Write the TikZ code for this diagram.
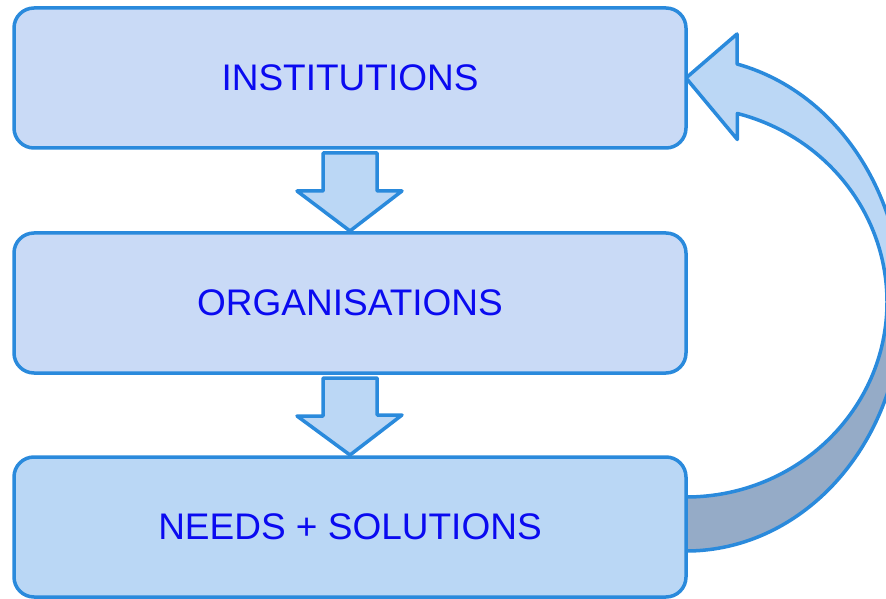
\documentclass[tikz,border=0pt]{standalone}
\usepackage{fontspec}
\setmainfont{Liberation Sans}
\usepackage{xcolor}
\usepackage{tikz}
\usetikzlibrary{positioning,backgrounds}

\definecolor{edgeblue}{HTML}{2A8ADC}
\definecolor{boxfill}{HTML}{C9DAF6}
\definecolor{needsfill}{HTML}{BAD7F5}
\definecolor{arrowfill}{HTML}{BBD7F5}
\definecolor{backfill}{HTML}{95ABC7}
\definecolor{textblue}{HTML}{0A0AF0}

% Umriss des gebogenen Pfeils (von needs zurueck zu inst)
\newcommand{\loopshape}{([yshift=30pt]needs.east)
  arc[start angle=-90,end angle=75.2,x radius=201pt,y radius=195pt]
  -- ++(0,-26) -- (inst.east) -- ++(51,44) -- ++(0,-30)
  arc[start angle=76.35,end angle=-90,x radius=216pt,y radius=247pt] -- cycle}

\begin{document}
\begin{tikzpicture}[x=1pt,y=1pt,
    box/.style={draw=edgeblue,line width=3.5pt,rounded corners=20pt,
      minimum width=672pt,minimum height=140pt,inner sep=0pt,outer sep=0pt,
      text=textblue,font=\fontsize{37}{44}\selectfont},
    blockarrow/.style={draw=edgeblue,fill=arrowfill,line width=3.5pt,line join=round}]
    \useasboundingbox (0,0) rectangle (886,598);
    % Kaesten
    \node[box,fill=boxfill] (inst) at (350,520) {INSTITUTIONS};
    \node[box,fill=boxfill,below=85pt of inst] (org) {ORGANISATIONS};
    \node[box,fill=needsfill,below=84pt of org] (needs) {NEEDS + SOLUTIONS};
    % Pfeile nach unten
    \foreach \a/\b in {inst/org,org/needs}
    \draw[blockarrow] ([xshift=-27pt,yshift=-5pt]\a.south) -- ++(0,-38) -- ++(-26,0)
      -- ([yshift=2pt]\b.north) -- ++(52,40) -- ++(-25,0)
      -- ([xshift=27pt,yshift=-5pt]\a.south) -- cycle;
    % Rueckkopplung
    \begin{pgfonlayer}{background}
      \clip (0,0) rectangle (886,598);
      \fill[arrowfill] \loopshape;
      \begin{scope}
        \clip (600,0) rectangle (900,296);
        \fill[backfill] \loopshape;
      \end{scope}
      \draw[edgeblue,line width=3.5pt,line join=round] \loopshape;
    \end{pgfonlayer}
\end{tikzpicture}
\end{document}
